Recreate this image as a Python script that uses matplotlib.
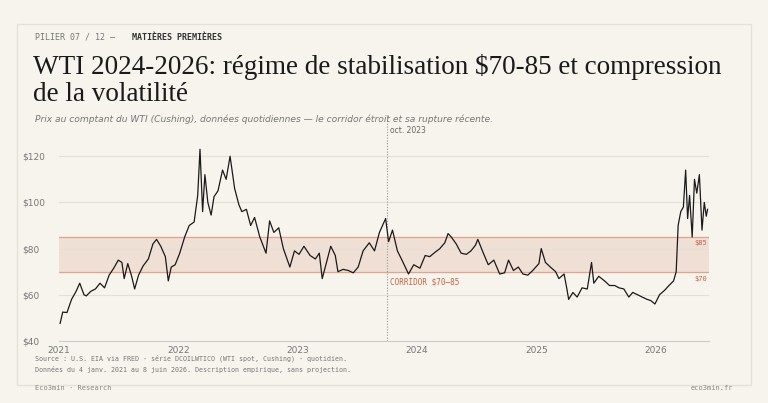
import matplotlib
matplotlib.use("Agg")
import matplotlib.pyplot as plt
import matplotlib.dates as mdates
import pandas as pd
import numpy as np

dates = ["2021-01-04","2021-01-12","2021-01-25","2021-02-08","2021-02-22","2021-03-05","2021-03-18","2021-03-25","2021-04-08","2021-04-22","2021-05-06","2021-05-20","2021-06-03","2021-06-17","2021-07-01","2021-07-12","2021-07-19","2021-07-30","2021-08-10","2021-08-20","2021-09-01","2021-09-15","2021-10-01","2021-10-15","2021-10-26","2021-11-08","2021-11-22","2021-12-01","2021-12-10","2021-12-22",
"2022-01-05","2022-01-20","2022-02-03","2022-02-18","2022-03-01","2022-03-08","2022-03-16","2022-03-23","2022-04-01","2022-04-11","2022-04-20","2022-05-02","2022-05-16","2022-05-27","2022-06-08","2022-06-22","2022-07-05","2022-07-14","2022-07-28","2022-08-10","2022-08-22","2022-09-07","2022-09-26","2022-10-07","2022-10-20","2022-11-04","2022-11-18","2022-12-08","2022-12-22",
"2023-01-05","2023-01-20","2023-02-08","2023-02-24","2023-03-08","2023-03-17","2023-03-30","2023-04-12","2023-04-26","2023-05-04","2023-05-20","2023-06-05","2023-06-20","2023-07-05","2023-07-20","2023-08-08","2023-08-24","2023-09-08","2023-09-27","2023-10-06","2023-10-18","2023-11-02","2023-11-16","2023-12-06","2023-12-22",
"2024-01-10","2024-01-26","2024-02-09","2024-02-26","2024-03-11","2024-03-26","2024-04-05","2024-04-15","2024-04-30","2024-05-15","2024-05-31","2024-06-14","2024-06-28","2024-07-05","2024-07-22","2024-08-06","2024-08-23","2024-09-10","2024-09-25","2024-10-07","2024-10-22","2024-11-06","2024-11-20","2024-12-05","2024-12-20",
"2025-01-08","2025-01-15","2025-01-28","2025-02-12","2025-02-28","2025-03-10","2025-03-26","2025-04-03","2025-04-09","2025-04-22","2025-05-05","2025-05-20","2025-06-05","2025-06-18","2025-06-25","2025-07-10","2025-07-28","2025-08-12","2025-08-28","2025-09-10","2025-09-25","2025-10-10","2025-10-22","2025-11-06","2025-11-20","2025-12-05","2025-12-16","2025-12-29",
"2026-01-12","2026-01-28","2026-02-10","2026-02-24","2026-03-04","2026-03-10","2026-03-18","2026-03-26","2026-04-02","2026-04-08","2026-04-14","2026-04-22","2026-04-29","2026-05-06","2026-05-14","2026-05-22","2026-05-29","2026-06-04","2026-06-08"]
wti = [47.6,52.5,52.3,58,61.5,65,60,59.5,61.5,62.5,65,63,68.5,71.5,75,74,67,73.5,68.5,62.5,68.5,72.5,75.5,82,84,81,76.5,66,72,73,
78,85,90,91.5,103,123,96,112,100,94.5,102.5,105,114,110,120,106,99,96,97,90,93.5,85,78,92,87,89,80,72,79,
77.5,81,77,75.5,78,67,74,81,77,70,71,70.5,69.5,72,79,82.5,79,87,93,83,88,79,75,69,73,
71.5,77,76.5,78.5,80,82.5,86.5,85,82,78,77.5,79,81.5,84,78,73,75,69,69.5,75,70.5,72,69,68.5,70.5,
73.5,80,74,72,70,67,69,63,58,61,59,63,62.5,74,65,68,66,64,64,63,62.5,59,61,60,59,58,57.5,56,
60,62,64,66,70,90,96,98,114,93,103,85,110,104,112,88,100,94,97]

s = pd.Series(wti, index=pd.to_datetime(dates))

BG = "#f7f4ee"
fig = plt.figure(figsize=(7.68, 4.03), dpi=100, facecolor=BG)
fig.patches.append(plt.Rectangle((0.022, 0.045), 0.956, 0.895, transform=fig.transFigure,
                                 fill=False, edgecolor="#e6e1d8", lw=1))
fig.text(0.045, 0.908, "PILIER 07 / 12 — ", fontsize=6, family="DejaVu Sans Mono", color="#777", va="center")
fig.text(0.172, 0.908, "MATIÈRES PREMIÈRES", fontsize=6, family="DejaVu Sans Mono", color="#333",
         va="center", weight="bold")
fig.text(0.043, 0.80, "WTI 2024-2026: régime de stabilisation $70-85 et compression\nde la volatilité",
         fontsize=19.5, family="Liberation Serif", color="#1a1a1a", va="center", linespacing=1.1)
fig.text(0.045, 0.703, "Prix au comptant du WTI (Cushing), données quotidiennes — le corridor étroit et sa rupture récente.",
         fontsize=6.6, style="italic", color="#777", va="center")

ax = fig.add_axes([0.077, 0.154, 0.846, 0.487])
ax.set_facecolor(BG)
ax.axhspan(70, 85, color="#f0dfd4", zorder=0)
ax.axhline(85, color="#e0a58d", lw=0.9, zorder=1)
ax.axhline(70, color="#e0a58d", lw=0.9, zorder=1)
for y in [60, 80, 100, 120]:
    ax.axhline(y, color="#e4e0d8", lw=0.8, zorder=0.5)
ax.plot(s.index, s.values, color="#1a1a1a", lw=0.9, zorder=3)
oct23 = pd.Timestamp("2023-10-01")
ax.axvline(oct23, color="#999", ls=(0, (1, 1.5)), lw=0.8, ymax=1.15, clip_on=False)
ax.text(oct23 + pd.Timedelta(days=8), 131, "oct. 2023", fontsize=5.5, color="#666", va="center")
ax.text(oct23 + pd.Timedelta(days=8), 65.5, "CORRIDOR $70–85", fontsize=5.5, family="DejaVu Sans Mono",
        color="#c8613d", va="center")
ax.text(pd.Timestamp("2026-06-08"), 82.5, "$85", fontsize=5, family="DejaVu Sans Mono", color="#c8613d",
        ha="right", va="center")
ax.text(pd.Timestamp("2026-06-08"), 67, "$70", fontsize=5, family="DejaVu Sans Mono", color="#c8613d",
        ha="right", va="center")
ax.set_xlim(pd.Timestamp("2021-01-01"), pd.Timestamp("2026-06-12"))
ax.set_ylim(40, 125)
ax.set_yticks([40, 60, 80, 100, 120])
ax.set_yticklabels(["$40", "$60", "$80", "$100", "$120"])
ax.xaxis.set_major_locator(mdates.YearLocator())
ax.xaxis.set_major_formatter(mdates.DateFormatter("%Y"))
for sp in ["top", "right", "left"]:
    ax.spines[sp].set_visible(False)
ax.spines["bottom"].set_color("#ccc")
ax.tick_params(length=0, labelsize=6.5, colors="#777")
for l in ax.get_yticklabels():
    l.set_horizontalalignment("left")
    l.set_x(-0.05)

fig.text(0.045, 0.098, "Source : U.S. EIA via FRED · série DCOILWTICO (WTI spot, Cushing) · quotidien.\n"
         "Données du 4 janv. 2021 au 8 juin 2026. Description empirique, sans projection.",
         fontsize=4.8, family="DejaVu Sans Mono", color="#777", va="center", linespacing=1.6)
fig.text(0.045, 0.038, "Eco3min · Research", fontsize=5, family="DejaVu Sans Mono", color="#888", va="center")
fig.text(0.955, 0.038, "eco3min.fr", fontsize=5, family="DejaVu Sans Mono", color="#888", va="center", ha="right")
fig.savefig("out.png", dpi=100, facecolor=BG)
